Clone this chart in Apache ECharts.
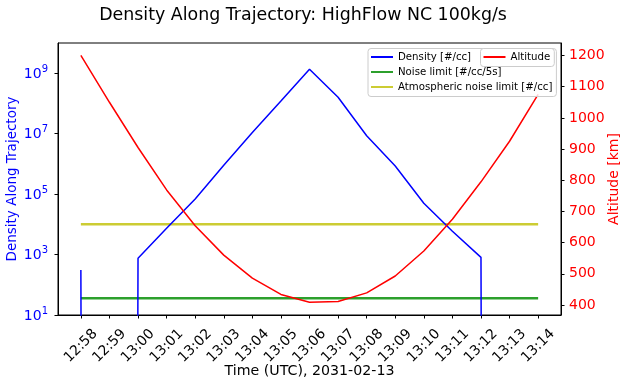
<!DOCTYPE html>
<html>
<head>
<meta charset="utf-8">
<script src="https://cdn.jsdelivr.net/npm/echarts@6/dist/echarts.min.js"></script>
<style>
  html, body { margin: 0; padding: 0; background: #fff; }
  #chart { width: 629px; height: 388px; }
</style>
</head>
<body>
<div id="chart"></div>
<script>
// ---- data ----
const timeLabels = ['12:58','12:59','13:00','13:01','13:02','13:03','13:04','13:05','13:06',
                    '13:07','13:08','13:09','13:10','13:11','13:12','13:13','13:14'];
const densityValues = [310, 0, 760, 7400, 69000, 9.0e5, 1.1e7, 1.2e8, 1.35e9,
                       1.6e8, 8.5e6, 8.5e5, 5.0e4, 5.9e3, 810, 0, 0];
const altitudeValues = [1200, 1050, 905, 769, 654, 560, 486, 434, 409,
                        411, 439, 493, 573, 675, 795, 925, 1075];
const noiseLimit = 36;          // #/cc/5s
const atmosphericNoiseLimit = 1.0e4; // #/cc
const densityTickValues = [1e1, 1e3, 1e5, 1e7, 1e9];
const altitudeTickValues = [400, 500, 600, 700, 800, 900, 1000, 1100, 1200];

// ---- build ----
const FONT = 'DejaVu Sans';
const LOG_FLOOR = 1e-300; // non-positive values clipped like a log plot does
const xIdx = timeLabels.map((_, i) => i);
const densityData = xIdx.map(i => [i, densityValues[i] > 0 ? densityValues[i] : LOG_FLOOR]);
const altitudeData = xIdx.map(i => [i, altitudeValues[i]]);
const last = xIdx.length - 1;
const noiseData = [[0, noiseLimit], [last, noiseLimit]];
const atmData = [[0, atmosphericNoiseLimit], [last, atmosphericNoiseLimit]];

const chart = echarts.init(document.getElementById('chart'), null, {renderer: 'canvas'});
const legendCommon = {
  orient: 'vertical', top: 48.5,
  padding: [1, 4, 2, 3], itemGap: 0, itemWidth: 22, itemHeight: 2, icon: 'rect',
  backgroundColor: 'rgba(255,255,255,0.8)', borderColor: '#ccc', borderWidth: 1, borderRadius: 3,
  textStyle: { fontFamily: FONT, fontSize: 10.2, color: '#000', lineHeight: 15 },
  selectedMode: false
};
const option = {
  animation: false,
  backgroundColor: '#fff',
  textStyle: { fontFamily: FONT },
  title: {
    text: 'Density Along Trajectory: HighFlow NC 100kg/s',
    left: 298, top: 2, textAlign: 'center',
    textStyle: { fontFamily: FONT, fontSize: 17.4, fontWeight: 'normal', color: '#000' }
  },
  grid: {
    left: 58, right: 68, top: 43, bottom: 73,
    outerBoundsMode: 'none', containLabel: false,
    show: true, borderColor: '#000', borderWidth: 1, backgroundColor: 'transparent'
  },
  legend: [Object.assign({}, legendCommon, {
    data: ['Density [#/cc]', 'Noise limit [#/cc/5s]', 'Atmospheric noise limit [#/cc]'],
    left: 368, z: 5
  }), Object.assign({}, legendCommon, {
    data: ['Altitude'], left: 480.5, z: 6
  })],
  xAxis: {
    type: 'value', min: -0.8, max: 16.8,
    name: 'Time (UTC), 2031-02-13', nameLocation: 'middle', nameGap: 49, nameMoveOverlap: false,
    nameTextStyle: { fontFamily: FONT, fontSize: 14.2, color: '#000' },
    axisLine: { show: true, onZero: false, lineStyle: { color: '#000', width: 1 } },
    axisTick: { show: true, length: 3.5, lineStyle: { color: '#000' }, customValues: xIdx },
    axisLabel: {
      customValues: xIdx, rotate: 45, margin: 31, align: 'center', verticalAlign: 'middle',
      fontFamily: FONT, fontSize: 14, color: '#000',
      formatter: v => timeLabels[Math.round(v)]
    },
    splitLine: { show: false }
  },
  yAxis: [{
    type: 'log', logBase: 10, min: 1e1, max: 1e10, position: 'left',
    name: 'Density Along Trajectory', nameLocation: 'middle', nameGap: 39, nameMoveOverlap: false,
    nameTextStyle: { fontFamily: FONT, fontSize: 13.5, color: '#0000ff' },
    axisLine: { show: true, onZero: false, lineStyle: { color: '#000', width: 1 } },
    axisTick: { show: true, length: 3.5, lineStyle: { color: '#000' }, customValues: densityTickValues },
    minorTick: { show: false },
    axisLabel: {
      customValues: densityTickValues, margin: 10, color: '#0000ff',
      formatter: v => '{b|10}{s|' + Math.round(Math.log10(v)) + '}',
      rich: {
        b: { fontFamily: FONT, fontSize: 14, color: '#0000ff', verticalAlign: 'bottom', lineHeight: 16 },
        s: { fontFamily: FONT, fontSize: 10, color: '#0000ff', verticalAlign: 'bottom', lineHeight: 11, padding: [0, 0, 7, 0] }
      }
    },
    splitLine: { show: false }
  }, {
    type: 'value', min: 368, max: 1240, position: 'right',
    name: 'Altitude [km]', nameLocation: 'middle', nameGap: 46, nameMoveOverlap: false,
    nameTextStyle: { fontFamily: FONT, fontSize: 14, color: '#ff0000' },
    axisLine: { show: true, onZero: false, lineStyle: { color: '#000', width: 1 } },
    axisTick: { show: true, length: 3.5, lineStyle: { color: '#000' }, customValues: altitudeTickValues },
    axisLabel: {
      customValues: altitudeTickValues, margin: 8, fontFamily: FONT, fontSize: 14, color: '#ff0000',
      formatter: v => String(v)
    },
    splitLine: { show: false }
  }],
  series: [{
    name: 'Density [#/cc]', type: 'line', yAxisIndex: 0, data: densityData,
    showSymbol: false, symbol: 'none', clip: true,
    lineStyle: { color: '#0000ff', width: 1.5 }, itemStyle: { color: '#0000ff' }, z: 3
  }, {
    name: 'Noise limit [#/cc/5s]', type: 'line', yAxisIndex: 0, data: noiseData,
    showSymbol: false, symbol: 'none',
    lineStyle: { color: '#2ca02c', width: 2.5 }, itemStyle: { color: '#2ca02c' }, z: 2
  }, {
    name: 'Atmospheric noise limit [#/cc]', type: 'line', yAxisIndex: 0, data: atmData,
    showSymbol: false, symbol: 'none',
    lineStyle: { color: '#cccc33', width: 2.5 }, itemStyle: { color: '#cccc33' }, z: 2
  }, {
    name: 'Altitude', type: 'line', yAxisIndex: 1, data: altitudeData,
    showSymbol: false, symbol: 'none',
    lineStyle: { color: '#ff0000', width: 1.5 }, itemStyle: { color: '#ff0000' }, z: 4
  }]
};
chart.setOption(option);
</script>
</body>
</html>
